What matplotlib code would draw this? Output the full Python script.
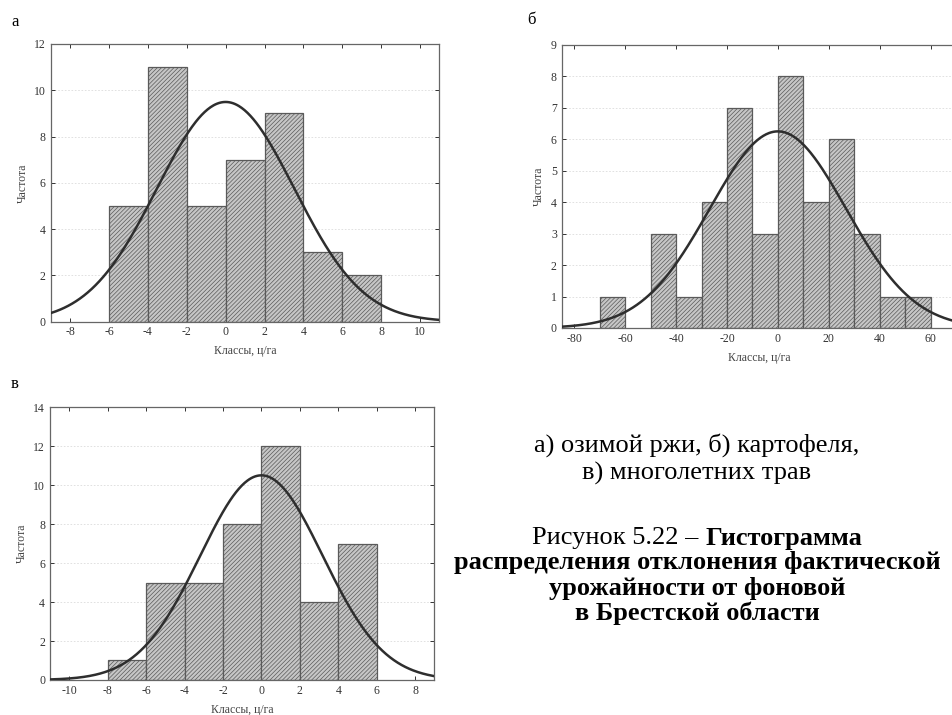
import numpy as np
import matplotlib
matplotlib.use("Agg")
import matplotlib.pyplot as plt

plt.rcParams['font.family'] = ['Liberation Serif', 'DejaVu Serif']
plt.rcParams['axes.unicode_minus'] = False
plt.rcParams['hatch.color'] = '#acacac'
plt.rcParams['hatch.linewidth'] = 0.5

# ---- data ----
a_edges = [-6, -4, -2, 0, 2, 4, 6, 8]
a_counts = [5, 11, 5, 7, 9, 3, 2]
a_mean, a_sd = 0.0, 3.53

b_edges = [-70, -60, -50, -40, -30, -20, -10, 0, 10, 20, 30, 40, 50, 60]
b_counts = [1, 0, 3, 1, 4, 7, 3, 8, 4, 6, 3, 1, 1]
b_mean, b_sd = 0.0, 26.8

c_edges = [-8, -6, -4, -2, 0, 2, 4, 6]
c_counts = [1, 5, 5, 8, 12, 4, 7]
c_mean, c_sd = 0.0, 3.19

a_xticks = [-8, -6, -4, -2, 0, 2, 4, 6, 8, 10]
b_xticks = [-80, -60, -40, -20, 0, 20, 40, 60]
c_xticks = [-10, -8, -6, -4, -2, 0, 2, 4, 6, 8]

fig = plt.figure(figsize=(9.53, 7.15), dpi=100)

def panel(rect, edges, counts, mean, sd, xlim, ylim, yticks, xticks):
    ax = fig.add_axes(rect)
    edges = np.array(edges, float)
    counts = np.array(counts, float)
    w = edges[1] - edges[0]
    for left, c in zip(edges[:-1], counts):
        if c > 0:
            ax.bar(left, c, width=w, align='edge', facecolor='#c6c6c6',
                   edgecolor='#5a5a5a', linewidth=0.9, hatch='////////', zorder=2)
    n = counts.sum()
    xs = np.linspace(xlim[0], xlim[1], 400)
    ys = n * w / (sd * np.sqrt(2 * np.pi)) * np.exp(-0.5 * ((xs - mean) / sd) ** 2)
    ax.plot(xs, ys, color='#2e2e2e', lw=1.8, zorder=3)
    ax.set_xlim(*xlim)
    ax.set_ylim(*ylim)
    ax.set_yticks(yticks)
    ax.set_xticks(xticks)
    ax.yaxis.grid(True, color='#dcdcdc', linestyle=(0, (2, 2)), linewidth=0.6, zorder=0)
    ax.tick_params(direction='in', top=True, right=True, labelsize=8.5,
                   colors='#333333', length=3, width=0.7)
    for s in ax.spines.values():
        s.set_color('#666666')
        s.set_linewidth(0.9)
    ax.set_xlabel('Классы, ц/га', fontsize=8.5, color='#444444', labelpad=5)
    ax.set_ylabel('Частота', fontsize=8.5, color='#444444', labelpad=4)
    return ax

panel([0.0532, 0.5502, 0.4079, 0.3883], a_edges, a_counts, a_mean, a_sd,
      (-9, 11), (0, 12), range(0, 13, 2), a_xticks)
panel([0.5894, 0.5413, 0.4137, 0.3958], b_edges, b_counts, b_mean, b_sd,
      (-85, 70), (0, 9), range(0, 10), b_xticks)
panel([0.0525, 0.0490, 0.4033, 0.3814], c_edges, c_counts, c_mean, c_sd,
      (-11, 9), (0, 14), range(0, 15, 2), c_xticks)

fig.text(11 / 953, 1 - 22 / 715, 'а', fontsize=12, ha='left', va='center')
fig.text(527 / 953, 1 - 20 / 715, 'б', fontsize=12, ha='left', va='center')
fig.text(11 / 953, 1 - 384 / 715, 'в', fontsize=12, ha='left', va='center')

cx = 697 / 953
fs = 19
fig.text(cx, 1 - 445 / 715, 'а) озимой ржи, б) картофеля,', fontsize=fs, ha='center', va='center')
fig.text(cx, 1 - 473 / 715, 'в) многолетних трав', fontsize=fs, ha='center', va='center')
t1 = 'Рисунок 5.22 – '
t2 = 'Гистограмма'
r1 = fig.text(0, 0, t1, fontsize=fs)
r2 = fig.text(0, 0, t2, fontsize=fs, fontweight='bold')
fig.canvas.draw()
rend = fig.canvas.get_renderer()
w1 = r1.get_window_extent(rend).width / fig.bbox.width
w2 = r2.get_window_extent(rend).width / fig.bbox.width
x0 = cx - (w1 + w2) / 2
r1.set_position((x0, 1 - 538 / 715)); r1.set_va('center'); r1.set_ha('left')
r2.set_position((x0 + w1, 1 - 538 / 715)); r2.set_va('center'); r2.set_ha('left')
fig.text(cx, 1 - 563 / 715, 'распределения отклонения фактической', fontsize=fs,
         fontweight='bold', ha='center', va='center')
fig.text(cx, 1 - 588 / 715, 'урожайности от фоновой', fontsize=fs,
         fontweight='bold', ha='center', va='center')
fig.text(cx, 1 - 613 / 715, 'в Брестской области', fontsize=fs,
         fontweight='bold', ha='center', va='center')

fig.savefig('out.png', dpi=100)
